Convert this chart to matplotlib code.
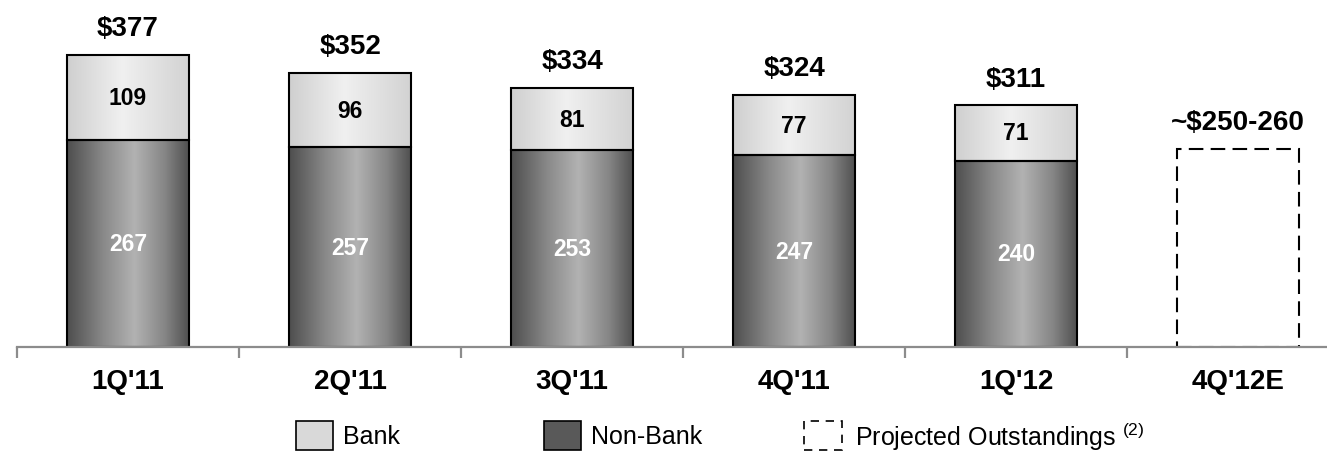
import matplotlib
matplotlib.use("Agg")
import matplotlib.pyplot as plt
import numpy as np
from matplotlib.colors import LinearSegmentedColormap
from matplotlib.patches import Rectangle

plt.rcParams['font.family'] = ['Liberation Sans', 'DejaVu Sans']

categories = ["1Q'11", "2Q'11", "3Q'11", "4Q'11", "1Q'12", "4Q'12E"]
non_bank = [267, 257, 253, 247, 240]
bank = [109, 96, 81, 77, 71]
totals = ["$377", "$352", "$334", "$324", "$311"]
projected_value = 255
projected_label = "~$250-260"

W, H = 1327, 452
fig = plt.figure(figsize=(W / 100, H / 100), dpi=100)
ax = fig.add_axes([17 / W, (452 - 348) / H, 1 - 17 / W, 348 / H])
ax.set_xlim(-0.5, 5.4)
ax.set_ylim(0, 448)

dark_cmap = LinearSegmentedColormap.from_list(
    "dark", [(0, "#4e4e4e"), (0.3, "#8a8a8a"), (0.55, "#b2b2b2"), (0.8, "#858585"), (1, "#4e4e4e")])
light_cmap = LinearSegmentedColormap.from_list(
    "light", [(0, "#cfcfcf"), (0.45, "#f0f0f0"), (1, "#d2d2d2")])
grad = np.linspace(0, 1, 256).reshape(1, -1)

bw = 0.55
for i in range(len(non_bank)):
    x0, x1 = i - bw / 2, i + bw / 2
    segs = [(0, non_bank[i], dark_cmap), (non_bank[i], non_bank[i] + bank[i], light_cmap)]
    for y0, y1, cm in segs:
        ax.imshow(grad, cmap=cm, extent=[x0, x1, y0, y1], aspect='auto', zorder=2, interpolation='bilinear')
        ax.add_patch(Rectangle((x0, y0), bw, y1 - y0, fill=False, edgecolor='black', lw=1.5, zorder=3))
    ax.text(i, non_bank[i] / 2, str(non_bank[i]), ha='center', va='center', color='white',
            fontsize=16.5, fontweight='bold', zorder=4)
    ax.text(i, non_bank[i] + bank[i] / 2, str(bank[i]), ha='center', va='center', color='black',
            fontsize=16.5, fontweight='bold', zorder=4)
    ax.annotate(totals[i], (i, non_bank[i] + bank[i]), xytext=(0, 10), textcoords='offset points',
                ha='center', va='bottom', fontsize=20, fontweight='bold')

# projected
ax.add_patch(Rectangle((5 - bw / 2, 0), bw, projected_value, fill=False, edgecolor='black',
                       lw=1.5, linestyle=(0, (7, 3.5)), zorder=3))
ax.annotate(projected_label, (5, projected_value), xytext=(0, 10), textcoords='offset points',
            ha='center', va='bottom', fontsize=20, fontweight='bold')

for s in ['top', 'right', 'left']:
    ax.spines[s].set_visible(False)
ax.spines['bottom'].set_color('#8c8c8c')
ax.spines['bottom'].set_linewidth(1.6)
ax.spines['bottom'].set_zorder(5)
ax.set_yticks([])
ax.set_xticks(np.arange(-0.5, 5, 1.0))
ax.set_xticklabels([])
ax.tick_params(axis='x', direction='out', length=8, width=1.6, color='#8c8c8c')
ax.set_xticks(np.arange(len(categories)), minor=True)
ax.set_xticklabels(categories, minor=True, fontsize=20, fontweight='bold')
ax.tick_params(axis='x', which='minor', length=0, pad=15)

# legend (figure pixel coordinates)
def fx(px):
    return px / W

def fy(py):
    return 1 - py / H

ph = 29
fig.add_artist(Rectangle((fx(296), fy(451)), fx(333) - fx(296), ph / H, transform=fig.transFigure,
                         facecolor='#d9d9d9', edgecolor='black', lw=1.2))
fig.text(fx(343), fy(437), "Bank", fontsize=18, va='center', ha='left')
fig.add_artist(Rectangle((fx(544), fy(451)), fx(581) - fx(544), ph / H, transform=fig.transFigure,
                         facecolor='#595959', edgecolor='black', lw=1.2))
fig.text(fx(591), fy(437), "Non-Bank", fontsize=18, va='center', ha='left')
fig.add_artist(Rectangle((fx(804), fy(451)), fx(842) - fx(804), ph / H, transform=fig.transFigure,
                         fill=False, edgecolor='black', lw=1.2, linestyle=(0, (5, 4))))
fig.text(fx(855), fy(437), r"Projected Outstandings $^{\mathregular{(2)}}$", fontsize=18, va='center', ha='left')

fig.savefig("out.png", dpi=100)
